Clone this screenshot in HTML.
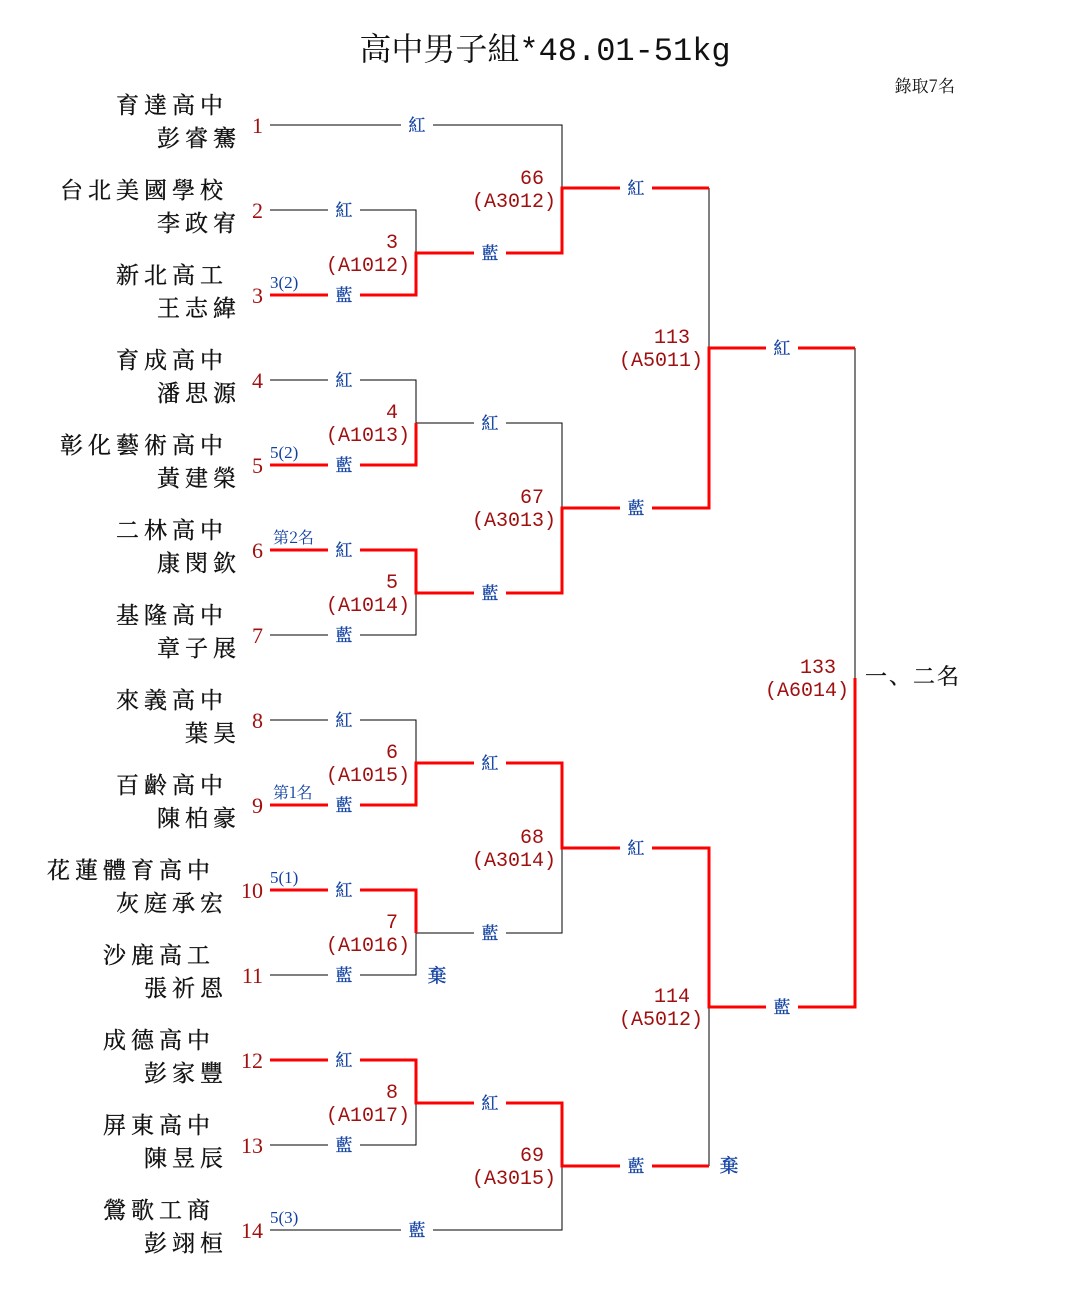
<!DOCTYPE html>
<html><head><meta charset="utf-8"><style>
html,body{margin:0;padding:0;background:#fff;}
svg{display:block;font-family:"Liberation Serif","Noto Serif CJK SC",serif;}
.s{font-size:23px;fill:#111;stroke:#111;stroke-width:0.35;letter-spacing:5px;text-anchor:end;font-family:"Noto Serif CJK SC",serif;}
.n{font-size:22px;fill:#a01010;text-anchor:end;}
.m{font-size:20px;fill:#a01010;text-anchor:end;font-family:"Liberation Mono","Noto Serif CJK SC",monospace;}
.b{font-size:17px;fill:#1040a0;text-anchor:middle;font-family:"Noto Serif CJK SC",serif;stroke:#1040a0;stroke-width:0.3;}
.sd{font-size:17px;fill:#1040a0;}
.k{stroke:#000;stroke-width:1;fill:none;}
.r{stroke:#f00;stroke-width:3;fill:none;}
</style></head><body>
<svg width="1085" height="1315" viewBox="0 0 1085 1315" xmlns="http://www.w3.org/2000/svg">
<text x="545" y="60" font-size="32" text-anchor="middle" fill="#111" font-family="Liberation Mono,Noto Serif CJK SC,serif">高中男子組*48.01-51kg</text>
<text x="955" y="92" font-size="17" text-anchor="end" fill="#111" font-family="Noto Serif CJK SC,serif">錄取7名</text>

<g class="s">
<text x="228" y="113">育達高中</text><text x="241" y="146">彭睿騫</text>
<text x="228" y="198">台北美國學校</text><text x="241" y="231">李政宥</text>
<text x="228" y="283">新北高工</text><text x="241" y="316">王志緯</text>
<text x="228" y="368">育成高中</text><text x="241" y="401">潘思源</text>
<text x="228" y="453">彰化藝術高中</text><text x="241" y="486">黃建榮</text>
<text x="228" y="538">二林高中</text><text x="241" y="571">康閔欽</text>
<text x="228" y="623">基隆高中</text><text x="241" y="656">章子展</text>
<text x="228" y="708">來義高中</text><text x="241" y="741">葉昊</text>
<text x="228" y="793">百齡高中</text><text x="241" y="826">陳柏豪</text>
<text x="215" y="878">花蓮體育高中</text><text x="228" y="911">灰庭承宏</text>
<text x="215" y="963">沙鹿高工</text><text x="228" y="996">張祈恩</text>
<text x="215" y="1048">成德高中</text><text x="228" y="1081">彭家豐</text>
<text x="215" y="1133">屏東高中</text><text x="228" y="1166">陳昱辰</text>
<text x="215" y="1218">鶯歌工商</text><text x="228" y="1251">彭翊桓</text>
</g>
<g class="n">
<text x="263" y="133">1</text><text x="263" y="218">2</text><text x="263" y="303">3</text><text x="263" y="388">4</text>
<text x="263" y="473">5</text><text x="263" y="558">6</text><text x="263" y="643">7</text><text x="263" y="728">8</text>
<text x="263" y="813">9</text><text x="263" y="898">10</text><text x="263" y="983">11</text><text x="263" y="1068">12</text>
<text x="263" y="1153">13</text><text x="263" y="1238">14</text>
</g>

<g class="k">
<path d="M270 125H562V188"/>
<path d="M270 210H416V253"/>
<path d="M270 380H416V423"/>
<path d="M416 423H562V508"/>
<path d="M270 635H416V593"/>
<path d="M709 188V348"/>
<path d="M855 348V678"/>
<path d="M270 720H416V763"/>
<path d="M270 975H416V933"/>
<path d="M562 848V933H416"/>
<path d="M270 1145H416V1103"/>
<path d="M270 1230H562V1166"/>
<path d="M709 1007V1166"/>
</g>
<g class="r">
<path d="M270 295H416V253H562V188H709"/>
<path d="M270 465H416V423"/>
<path d="M270 550H416V593H562V508H709V348H855"/>
<path d="M270 805H416V763H562V848H709V1007H855V678"/>
<path d="M270 890H416V933"/>
<path d="M270 1060H416V1103H562V1166H709"/>
</g>

<g fill="#fff">
<rect x="401" y="114" width="32" height="22"/>
<rect x="328" y="199" width="32" height="22"/><rect x="328" y="284" width="32" height="22"/>
<rect x="328" y="369" width="32" height="22"/><rect x="328" y="454" width="32" height="22"/>
<rect x="328" y="539" width="32" height="22"/><rect x="328" y="624" width="32" height="22"/>
<rect x="328" y="709" width="32" height="22"/><rect x="328" y="794" width="32" height="22"/>
<rect x="328" y="879" width="32" height="22"/><rect x="328" y="964" width="32" height="22"/>
<rect x="328" y="1049" width="32" height="22"/><rect x="328" y="1134" width="32" height="22"/>
<rect x="401" y="1219" width="32" height="22"/>
<rect x="474" y="242" width="32" height="22"/><rect x="474" y="412" width="32" height="22"/>
<rect x="474" y="582" width="32" height="22"/><rect x="474" y="752" width="32" height="22"/>
<rect x="474" y="922" width="32" height="22"/><rect x="474" y="1092" width="32" height="22"/>
<rect x="620" y="177" width="32" height="22"/><rect x="620" y="497" width="32" height="22"/>
<rect x="620" y="837" width="32" height="22"/><rect x="620" y="1155" width="32" height="22"/>
<rect x="766" y="337" width="32" height="22"/><rect x="766" y="996" width="32" height="22"/>
</g>
<g class="b">
<text x="417" y="131">紅</text>
<text x="344" y="216">紅</text><text x="344" y="301">藍</text>
<text x="344" y="386">紅</text><text x="344" y="471">藍</text>
<text x="344" y="556">紅</text><text x="344" y="641">藍</text>
<text x="344" y="726">紅</text><text x="344" y="811">藍</text>
<text x="344" y="896">紅</text><text x="344" y="981">藍</text>
<text x="344" y="1066">紅</text><text x="344" y="1151">藍</text>
<text x="417" y="1236">藍</text>
<text x="490" y="259">藍</text><text x="490" y="429">紅</text>
<text x="490" y="599">藍</text><text x="490" y="769">紅</text>
<text x="490" y="939">藍</text><text x="490" y="1109">紅</text>
<text x="636" y="194">紅</text><text x="636" y="514">藍</text>
<text x="636" y="854">紅</text><text x="636" y="1172">藍</text>
<text x="782" y="354">紅</text><text x="782" y="1013">藍</text>
<text x="437" y="982" font-size="19">棄</text><text x="729" y="1172" font-size="19">棄</text>
</g>
<g class="sd">
<text x="270" y="288">3(2)</text><text x="270" y="458">5(2)</text>
<text x="273" y="543" font-size="16" font-family="Noto Serif CJK SC,serif">第2名</text>
<text x="273" y="798" font-size="16" font-family="Noto Serif CJK SC,serif">第1名</text>
<text x="270" y="883">5(1)</text><text x="270" y="1223">5(3)</text>
</g>

<g class="m">
<text x="398" y="248">3</text><text x="410" y="271">(A1012)</text>
<text x="398" y="418">4</text><text x="410" y="441">(A1013)</text>
<text x="398" y="588">5</text><text x="410" y="611">(A1014)</text>
<text x="398" y="758">6</text><text x="410" y="781">(A1015)</text>
<text x="398" y="928">7</text><text x="410" y="951">(A1016)</text>
<text x="398" y="1098">8</text><text x="410" y="1121">(A1017)</text>
<text x="544" y="184">66</text><text x="556" y="207">(A3012)</text>
<text x="544" y="503">67</text><text x="556" y="526">(A3013)</text>
<text x="544" y="843">68</text><text x="556" y="866">(A3014)</text>
<text x="544" y="1161">69</text><text x="556" y="1184">(A3015)</text>
<text x="690" y="343">113</text><text x="703" y="366">(A5011)</text>
<text x="690" y="1002">114</text><text x="703" y="1025">(A5012)</text>
<text x="836" y="673">133</text><text x="849" y="696">(A6014)</text>
</g>
<text x="865" y="684" font-size="22" fill="#111" stroke="#111" stroke-width="0.3" font-family="Noto Serif CJK SC,serif" letter-spacing="2">一、二名</text>
</svg>
</body></html>
